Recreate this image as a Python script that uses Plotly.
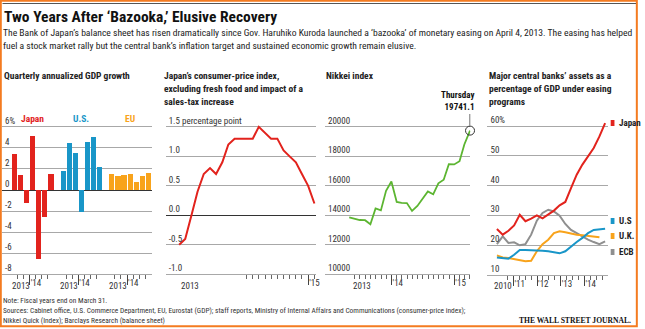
import plotly.graph_objects as go

W, H = 645, 329
FONT = "Liberation Sans Narrow, Roboto Condensed, Arial Narrow, Liberation Sans, sans-serif"
SERIF = "Liberation Serif, DejaVu Serif, serif"

RED = "#e2231d"
BLUE = "#1996c8"
ORANGE = "#f8a31b"
GREEN = "#5cb531"
GREY = "#8f8f8f"
INK = "#222222"
GRID = "#a8a8a8"

# ---------------- data ----------------
# Quarterly annualized GDP growth, 2Q 2013 - 4Q 2014 (%)
gdp_quarters = ["2Q13", "3Q13", "4Q13", "1Q14", "2Q14", "3Q14", "4Q14"]
gdp_japan = [3.4, 1.4, -1.2, 5.1, -6.5, -2.6, 1.5]
gdp_us = [1.8, 4.5, 3.5, -2.1, 4.6, 5.0, 2.2]
gdp_eu = [1.5, 1.3, 1.4, 1.5, 0.8, 1.3, 1.6]
gdp_groups = ["Japan", "U.S.", "EU"]

# Japan core CPI, excluding fresh food and sales-tax impact (percentage point)
cpi_months = ["2013-04-01", "2013-05-01", "2013-06-01", "2013-07-01", "2013-08-01",
              "2013-09-01", "2013-10-01", "2013-11-01", "2013-12-01", "2014-01-01",
              "2014-02-01", "2014-03-01", "2014-04-01", "2014-05-01", "2014-06-01",
              "2014-07-01", "2014-08-01", "2014-09-01", "2014-10-01", "2014-11-01",
              "2014-12-01", "2015-01-01", "2015-02-01"]
cpi_values = [-0.5, -0.4, 0.0, 0.4, 0.7, 0.8, 0.7, 0.9, 1.2, 1.3, 1.3, 1.3, 1.3,
              1.5, 1.4, 1.3, 1.3, 1.1, 1.0, 0.9, 0.7, 0.5, 0.2]

# Nikkei index, month-end closes plus the latest Thursday close
nikkei_dates = ["2013-04-30", "2013-05-31", "2013-06-30", "2013-07-31", "2013-08-31",
                "2013-09-30", "2013-10-31", "2013-11-30", "2013-12-31", "2014-01-31",
                "2014-02-28", "2014-03-31", "2014-04-30", "2014-05-31", "2014-06-30",
                "2014-07-31", "2014-08-31", "2014-09-30", "2014-10-31", "2014-11-30",
                "2014-12-31", "2015-01-31", "2015-02-28", "2015-04-02"]
nikkei_values = [13860, 13770, 13680, 13670, 13390, 14460, 14330, 15660, 16290, 14910,
                 14840, 14830, 14300, 14630, 15160, 15620, 15420, 16170, 16410, 17460,
                 17450, 17670, 18800, 19741.1]

# Central banks' assets as % of GDP
cb_dates = ["2010-04-20", "2010-07-19", "2010-10-15", "2011-01-11", "2011-04-08",
            "2011-07-05", "2011-10-01", "2011-12-28", "2012-03-25", "2012-06-21",
            "2012-09-17", "2012-12-14", "2013-03-12", "2013-06-08", "2013-09-04",
            "2013-12-01", "2014-02-26", "2014-05-25", "2014-08-21", "2014-11-17"]
cb_japan = [25.4, 23.5, 24.8, 26.6, 30.2, 28.0, 28.9, 30.0, 29.0, 30.2,
            31.6, 33.4, 34.5, 39.2, 43.7, 47.1, 49.9, 52.7, 56.6, 61.1]
cb_us = [15.8, 15.6, 15.4, 16.7, 18.3, 18.3, 18.3, 18.2, 18.1, 17.9,
         17.5, 17.2, 17.9, 19.6, 21.0, 22.4, 24.0, 25.1, 25.3, 25.5]
cb_uk = [16.5, 15.8, 15.6, 15.2, 14.7, 14.5, 14.7, 17.9, 20.3, 21.8,
         24.0, 24.6, 24.3, 23.8, 23.5, 23.3, 23.0, 22.8, 22.6, None]
cb_ecb = [20.3, 22.9, 20.7, 20.9, 19.9, 20.3, 23.5, 28.2, 30.8, 31.9,
          31.3, 29.9, 27.1, 25.1, 24.0, 22.9, 21.8, 21.0, 20.3, 21.2]
cb_names = ["Japan", "U.S", "U.K.", "ECB"]


# ---------------- helpers ----------------
def fx(p):
    return p / W


def fy(p):
    return 1 - p / H


def text(s, x, y, size=9.5, color=INK, bold=False, anchor="left", family=FONT,
         xref="paper", yref="paper"):
    return dict(text=s, x=x, y=y, xref=xref, yref=yref, xanchor=anchor,
                yanchor="middle", showarrow=False,
                font=dict(family=family, size=size, color=color,
                          weight="bold" if bold else "normal"))


TICKFONT = dict(family=FONT, size=9, color="#333333")
PLOT_Y = [fy(274.3), fy(114)]


def yaxis(domain, rng, vals, labels, anchor, zero=False):
    return dict(domain=domain, range=rng, tickvals=vals, ticktext=labels, anchor=anchor,
                ticklabelposition="inside top", ticks="", showgrid=True,
                gridcolor=GRID, gridwidth=1, zeroline=zero,
                zerolinecolor="#333333", zerolinewidth=1, showline=False,
                tickfont=TICKFONT, fixedrange=True)


def xaxis(domain, rng, majors, major_text, minors, anchor, kind="linear"):
    return dict(domain=domain, range=rng, type=kind, anchor=anchor,
                tickvals=majors, ticktext=major_text, ticks="outside", ticklen=10,
                tickwidth=1, tickcolor="#444444", ticklabelposition="outside right",
                showline=True, linecolor=GRID, linewidth=1, showgrid=False,
                zeroline=False, tickfont=TICKFONT, fixedrange=True,
                minor=dict(tickvals=minors, ticks="outside", ticklen=4,
                           tickcolor="#666666", tickwidth=1, showgrid=False))


fig = go.Figure()

# ---------------- panel 1: GDP bars ----------------
n = len(gdp_quarters)
offsets = [0, n + 1, 2 * (n + 1)]
for series, color, off in zip([gdp_japan, gdp_us, gdp_eu], [RED, BLUE, ORANGE], offsets):
    fig.add_trace(go.Bar(x=[off + i for i in range(n)], y=series, width=0.85,
                         marker=dict(color=color, line=dict(width=0)),
                         xaxis="x", yaxis="y", showlegend=False,
                         hovertext=gdp_quarters))

p1_majors = [off + 2.5 for off in offsets]
p1_minors = [off + i + 0.5 for off in offsets for i in range(n - 1)]

# ---------------- panel 2: CPI line ----------------
fig.add_trace(go.Scatter(x=cpi_months, y=cpi_values, mode="lines",
                         line=dict(color=RED, width=2), xaxis="x2", yaxis="y2",
                         showlegend=False))

# ---------------- panel 3: Nikkei line ----------------
fig.add_trace(go.Scatter(x=nikkei_dates, y=nikkei_values, mode="lines",
                         line=dict(color=GREEN, width=1.8), xaxis="x3", yaxis="y3",
                         showlegend=False))
fig.add_trace(go.Scatter(x=nikkei_dates[-1:], y=nikkei_values[-1:], mode="markers",
                         marker=dict(symbol="circle-open", size=9, color="#333333",
                                     line=dict(color="#333333", width=1)),
                         xaxis="x3", yaxis="y3", showlegend=False, cliponaxis=False))

# ---------------- panel 4: central bank balance sheets ----------------
cb_colors = [RED, BLUE, ORANGE, GREY]
for series, color in zip([cb_ecb, cb_uk, cb_us, cb_japan], [GREY, ORANGE, BLUE, RED]):
    fig.add_trace(go.Scatter(x=cb_dates, y=series, mode="lines",
                             line=dict(color=color, width=2), xaxis="x4", yaxis="y4",
                             showlegend=False))

month_ticks_2 = ["2013-%02d-01" % m for m in range(4, 13)] + \
                ["2014-%02d-01" % m for m in range(1, 13)] + ["2015-01-01", "2015-02-01"]
month_ticks_3 = ["2013-%02d-01" % m for m in range(5, 13)] + \
                ["2014-%02d-01" % m for m in range(1, 13)] + \
                ["2015-%02d-01" % m for m in range(1, 5)]
quarter_ticks_4 = ["%d-%02d-01" % (y, m) for y in range(2010, 2015) for m in (1, 4, 7, 10)][1:]

fig.update_layout(
    width=W, height=H, margin=dict(l=0, r=0, t=0, b=0),
    paper_bgcolor="white", plot_bgcolor="white", bargap=0,
    font=dict(family=FONT, color=INK),
    xaxis=xaxis([fx(2), fx(152.7)], [-2.04, 22.55], p1_majors, ["'14"] * 3,
                p1_minors, "y"),
    yaxis=yaxis(PLOT_Y, [-8, 7.22], [-8, -6, -4, -2, 0, 2, 4, 6],
                ["-8", "-6", "-4", "-2", "0", "2", "4", "6%"], "x", zero=True),
    xaxis2=xaxis([fx(166.7), fx(318)], ["2013-01-24", "2015-02-09"],
                 ["2014-01-01", "2015-01-01"], ["'14", "'15"], month_ticks_2, "y2", "date"),
    yaxis2=yaxis(PLOT_Y, [-1.0, 1.718], [-1.0, -0.5, 0.0, 0.5, 1.0, 1.5],
                 ["-1.0", "-0.5", "0.0", "0.5", "1.0", "1.5 percentage point"], "x2",
                 zero=True),
    xaxis3=xaxis([fx(327), fx(473.3)], ["2012-12-10", "2015-04-04"],
                 ["2014-01-01", "2015-01-01"], ["'14", "'15"], month_ticks_3, "y3", "date"),
    yaxis3=yaxis(PLOT_Y, [10000, 20868], [10000, 12000, 14000, 16000, 18000, 20000],
                 ["10000", "12000", "14000", "16000", "18000", "20000"], "x3"),
    xaxis4=xaxis([fx(490.5), fx(611.5)], ["2009-11-25", "2014-12-27"],
                 ["2011-01-01", "2012-01-01", "2013-01-01", "2014-01-01"],
                 ["'11", "'12", "'13", "'14"], quarter_ticks_4, "y4", "date"),
    yaxis4=yaxis([fy(274.7), fy(114)], [10, 64.15], [10, 20, 30, 40, 50, 60],
                 ["10", "20", "30", "40", "50", "60%"], "x4"),
)

ann = []
# headline and intro
ann.append(text("Two Years After \u2018Bazooka,\u2019 Elusive Recovery", fx(2), fy(17),
                size=15.5, color="#111111", bold=True))
ann.append(text("The Bank of Japan\u2019s balance sheet has risen dramatically since Gov. "
                "Haruhiko Kuroda launched a \u2018bazooka\u2019 of monetary easing on April 4, "
                "2013. The easing has helped", fx(1.5), fy(33), size=9.6))
ann.append(text("fuel a stock market rally but the central bank\u2019s inflation target and "
                "sustained economic growth remain elusive.", fx(1.5), fy(45), size=9.6))

# panel titles
ann.append(text("Quarterly annualized GDP growth", fx(2), fy(75), bold=True))
for i, line in enumerate(["Japan\u2019s consumer-price index,",
                          "excluding fresh food and impact of a", "sales-tax increase"]):
    ann.append(text(line, fx(163), fy(75 + 13 * i), bold=True))
ann.append(text("Nikkei index", fx(326), fy(75), bold=True))
for i, line in enumerate(["Major central banks\u2019 assets as a",
                          "percentage of GDP under easing", "programs"]):
    ann.append(text(line, fx(490), fy(75 + 13 * i), bold=True))

# GDP group labels
for name, color, off in zip(gdp_groups, [RED, BLUE, ORANGE], offsets):
    ann.append(text(name, off + (n - 1) / 2, fy(119), size=9.5, color=color, bold=True,
                    anchor="center", xref="x"))

# leading year labels
for off in offsets:
    ann.append(text("2013", off + 1, fy(286), size=9, color="#333333", anchor="center",
                    xref="x"))
ann.append(text("2013", "2013-05-27", fy(286), size=9, color="#333333", anchor="center",
                xref="x2"))
ann.append(text("2013", "2013-07-15", fy(286), size=9, color="#333333", anchor="center",
                xref="x3"))
ann.append(text("2010", "2010-07-20", fy(286), size=9, color="#333333", anchor="center",
                xref="x4"))

# Nikkei callout
ann.append(dict(text="Thursday<br>%.1f" % nikkei_values[-1], x=nikkei_dates[-1],
                y=nikkei_values[-1], xref="x3", yref="y3", xanchor="right",
                yanchor="bottom", align="right", showarrow=False, xshift=6, yshift=17,
                font=dict(family=FONT, size=9, color="#111111", weight="bold")))

# central bank end labels
label_y = [123, 221, 236, 252]
for name, color, py in zip(cb_names, cb_colors, label_y):
    ann.append(text(name, fx(621), fy(py), size=9, color="#222222", bold=True))

# footer
ann.append(text("Note: Fiscal years end on March 31.", fx(1.5), fy(300), size=7.4,
                color="#333333"))
ann.append(text("Sources: Cabinet office, U.S. Commerce Department, EU, Eurostat (GDP); staff "
                "reports, Ministry of Internal Affairs and Communications (consumer-price index);",
                fx(1.5), fy(310), size=7.4, color="#333333"))
ann.append(text("Nikkei Quick (Index); Barclays Research (balance sheet)", fx(1.5), fy(320),
                size=7.4, color="#333333"))
ann.append(text("THE WALL STREET JOURNAL.", fx(637), fy(320), size=7.6, color="#111111",
                bold=True, anchor="right", family=SERIF))

fig.update_layout(annotations=ann)

shapes = []
# outer frame and top rule
shapes.append(dict(type="rect", xref="paper", yref="paper", x0=fx(0.8), x1=fx(640.8),
                   y0=fy(326.2), y1=fy(0.8), line=dict(color="#f47b20", width=2)))
shapes.append(dict(type="line", xref="paper", yref="paper", x0=fx(2.5), x1=fx(640),
                   y0=fy(3.5), y1=fy(3.5), line=dict(color="#555555", width=1)))
# legend chips for central bank labels
for color, py in zip(cb_colors, label_y):
    shapes.append(dict(type="rect", xref="paper", yref="paper", x0=fx(614.5), x1=fx(618.3),
                       y0=fy(py + 3), y1=fy(py - 3), line=dict(width=0), fillcolor=color))
# Nikkei callout leader
shapes.append(dict(type="line", xref="x3", yref="y3", x0=nikkei_dates[-1],
                   x1=nikkei_dates[-1], ysizemode="pixel", yanchor=nikkei_values[-1],
                   y0=5, y1=18, line=dict(color="#333333", width=1)))
fig.update_layout(shapes=shapes)

fig.write_html("out.html")
